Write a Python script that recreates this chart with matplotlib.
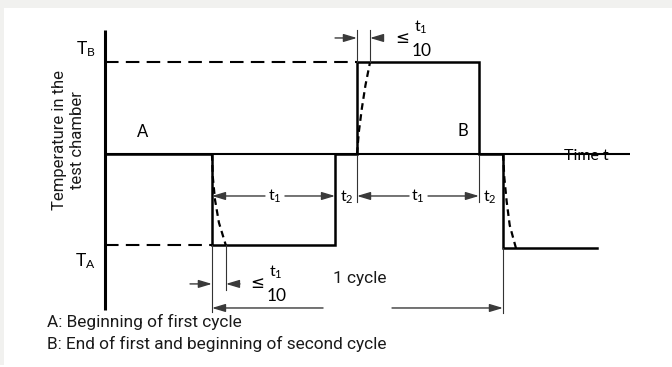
import matplotlib
matplotlib.use("Agg")
import matplotlib.pyplot as plt
from matplotlib.patches import Rectangle

# ---- data (time in units where t1 = 10, temperature T_A=-1, 0, T_B=+1) ----
signal_t = [0, 8.73, 8.73, 18.78, 18.78, 20.57, 20.57, 30.53, 30.53, 32.49, 32.49, 40.16]
signal_T = [0, 0, -1, -1, 0, 0, 1, 1, 0, 0, -1.03, -1.03]

T_B = 1.0
T_A = -1.0
time_axis_end = 42.86
temp_axis_range = (-1.705, 1.355)

# dashed real-temperature curves (time offset after edge, temperature)
fall1_dt = [0, 0.07, 0.25, 0.57, 1.14]
fall1_T = [0, -0.25, -0.5, -0.75, -1.0]
rise_dt = [0, 0.16, 0.40, 0.69, 1.06]
rise_T = [0, 0.25, 0.5, 0.75, 1.0]
fall3_dt = [0, 0.11, 0.30, 0.55, 1.06]
fall3_T = [0, -0.26, -0.52, -0.78, -1.03]

edge_fall1 = 8.73
edge_rise1 = 18.78
edge_rise2 = 20.57
edge_fall2 = 30.53
edge_fall3 = 32.49

fig = plt.figure(figsize=(6.72, 3.67), dpi=100)
ax = fig.add_axes([0, 0, 1, 1])
ax.set_xlim(-8.571, 46.286)
ax.set_ylim(-2.328, 1.683)
ax.axis("off")

# light frame bands
fig.add_artist(Rectangle((0, 1 - 8 / 367), 1, 8 / 367, transform=fig.transFigure,
                         facecolor="#f1f1ef", edgecolor="none", zorder=0))
fig.add_artist(Rectangle((0, 2 / 367), 4 / 672, 357 / 367, transform=fig.transFigure,
                         facecolor="#f1f1ef", edgecolor="none", zorder=0))

# axes lines
ax.plot([0, 0], temp_axis_range, color="black", lw=2.2, solid_capstyle="butt")
ax.plot([0, time_axis_end], [0, 0], color="black", lw=1.5, solid_capstyle="butt", zorder=3)

# reference dashed levels
ax.plot([0, edge_rise2], [T_B, T_B], color="black", lw=1.5, dashes=(6.5, 3.5))
ax.plot([0, edge_fall1], [T_A, T_A], color="black", lw=1.5, dashes=(6.5, 3.5))

# signal
ax.plot(signal_t, signal_T, color="black", lw=1.8, solid_joinstyle="miter")

# dashed real curves
ax.plot([edge_fall1 + d for d in fall1_dt], fall1_T, color="black", lw=1.6, dashes=(3, 2))
ax.plot([edge_rise2 + d for d in rise_dt], rise_T, color="black", lw=1.6, dashes=(3, 2))
ax.plot([edge_fall3 + d for d in fall3_dt], fall3_T, color="black", lw=1.6, dashes=(3, 2))

# extension lines
thin = dict(color="#333333", lw=0.8)
ax.plot([edge_fall1, edge_fall1], [-1, -1.727], **thin)
ax.plot([edge_fall1 + 1.14, edge_fall1 + 1.14], [-1, -1.486], **thin)
ax.plot([edge_rise2, edge_rise2], [1, 1.355], **thin)
ax.plot([edge_rise2 + 1.06, edge_rise2 + 1.06], [1, 1.355], **thin)
ax.plot([edge_rise2, edge_rise2], [0, -0.525], **thin)
ax.plot([edge_fall2, edge_fall2], [0, -0.525], **thin)
ax.plot([edge_fall3, edge_fall3], [-1.03, -1.74], **thin)

def arrow(x0, x1, y):
    ax.annotate("", xy=(x1, y), xytext=(x0, y),
                arrowprops=dict(arrowstyle="-|>,head_length=0.8,head_width=0.24",
                                color="#3a3a3a", lw=1.0, shrinkA=0, shrinkB=0))

arrow(18.78, edge_rise2, 1.268)
arrow(22.69, edge_rise2 + 1.06, 1.268)
arrow(6.94, edge_fall1, -1.42)
arrow(11.02, edge_fall1 + 1.14, -1.42)
arrow(13.06, edge_fall1, -0.459)
arrow(14.69, edge_rise1, -0.459)
arrow(24.82, edge_rise2, -0.459)
arrow(26.37, edge_fall2, -0.459)
arrow(17.8, edge_fall1, -1.683)
arrow(23.43, edge_fall3, -1.683)

lab = dict(family=["Lato", "DejaVu Sans"], fontweight="normal", color="black")
sym = dict(family=["DejaVu Sans"], color="black")
ax.text(-0.75, 1.148, r"$\mathregular{T_B}$", ha="right", va="center", fontsize=12.5, **lab)
ax.text(-0.75, -1.169, r"$\mathregular{T_A}$", ha="right", va="center", fontsize=12.5, **lab)
ax.text(3.10, 0.24, "A", ha="center", va="center", fontsize=12, **lab)
ax.text(29.22, 0.251, "B", ha="center", va="center", fontsize=12, **lab)
ax.text(39.27, -0.066, "Time t", ha="center", va="baseline", fontsize=11.5, zorder=1, **lab)

ax.text(24.24, 1.268, "≤", ha="center", va="center", fontsize=12, **sym)
ax.text(25.8, 1.388, r"$\mathregular{t_1}$", ha="center", va="center", fontsize=11.5, **lab)
ax.text(25.88, 1.126, "10", ha="center", va="center", fontsize=12.5, **lab)
ax.text(12.41, -1.41, "≤", ha="center", va="center", fontsize=12, **sym)
ax.text(13.96, -1.29, r"$\mathregular{t_1}$", ha="center", va="center", fontsize=11.5, **lab)
ax.text(14.04, -1.552, "10", ha="center", va="center", fontsize=12.5, **lab)

ax.text(13.88, -0.459, r"$\mathregular{t_1}$", ha="center", va="center", fontsize=11.5, **lab)
ax.text(25.55, -0.459, r"$\mathregular{t_1}$", ha="center", va="center", fontsize=11.5, **lab)
ax.text(19.76, -0.47, r"$\mathregular{t_2}$", ha="center", va="center", fontsize=11.5, **lab)
ax.text(31.43, -0.47, r"$\mathregular{t_2}$", ha="center", va="center", fontsize=11.5, **lab)

rob = dict(family=["Roboto", "DejaVu Sans"], color="#1a1a1a")
ax.text(20.82, -1.366, "1 cycle", ha="center", va="center", fontsize=12.4, **rob)
ax.text(-2.94, 0.153, "Temperature in the\ntest chamber", rotation=90, ha="center",
        va="center", fontsize=12, linespacing=1.25, **rob)
ax.text(-4.73, -1.836, "A: Beginning of first cycle", ha="left", va="center", fontsize=12.4, **rob)
ax.text(-4.73, -2.077, "B: End of first and beginning of second cycle", ha="left",
        va="center", fontsize=12.4, **rob)

fig.savefig("out.png", dpi=100)
